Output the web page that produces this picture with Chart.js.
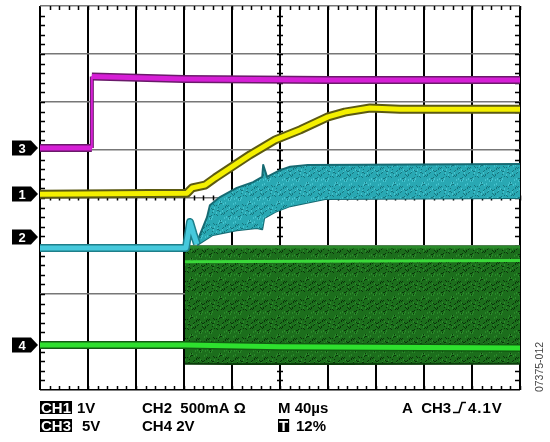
<!DOCTYPE html>
<html lang="en">
<head>
<meta charset="UTF-8">
<title>Scope capture</title>
<script src="https://cdn.jsdelivr.net/npm/chart.js"></script>
<style>
  body { margin: 0; background: #fff; }
  canvas { display: block; }
</style>
</head>
<body>
<canvas id="scope" width="550" height="442"></canvas>
<script>
// trace values in divisions (x: 0..10, y: 0..8 from the bottom)
const ch3X = [0, 1.08, 1.08, 3, 6, 10];
const ch3Y = [5.04, 5.04, 6.53, 6.48, 6.46, 6.46];

const ch1X = [0, 3.06, 3.17, 3.44, 3.65, 4.375, 4.9, 5.42, 6.0, 6.35, 6.875, 7.5, 10];
const ch1Y = [4.08, 4.1, 4.21, 4.27, 4.42, 4.9, 5.21, 5.42, 5.69, 5.79, 5.875, 5.85, 5.85];

const ch2X = [0, 3.04, 3.125, 3.2, 3.27];
const ch2Y = [2.96, 2.96, 3.5, 3.25, 3.04];
const ch2HiX = [3.27, 3.48, 3.54, 3.75, 4.1, 4.44, 4.63, 4.65, 4.73, 5.0, 5.21, 5.58, 10];
const ch2HiY = [3.08, 3.6, 3.85, 4.02, 4.21, 4.33, 4.44, 4.69, 4.44, 4.58, 4.65, 4.69, 4.71];
const ch2LoX = [3.27, 3.6, 4.1, 4.52, 4.63, 4.67, 4.9, 5.21, 5.94, 10];
const ch2LoY = [3.02, 3.23, 3.33, 3.375, 3.35, 3.58, 3.71, 3.83, 3.98, 4.0];

const ch4X = [0, 3.02, 5, 10];
const ch4Y = [0.94, 0.94, 0.9, 0.875];
const ch4TopX = [3.02, 10];
const ch4TopY = [2.98, 2.98];
const ch4BotX = [3.02, 4, 6, 10];
const ch4BotY = [0.57, 0.56, 0.56, 0.57];
const ch4BrightX = [3.02, 10];
const ch4BrightY = [2.67, 2.7];

// channel ground markers on the left
const markerLabels = ['3', '1', '2', '4'];
const markerLevels = [5.04, 4.08, 3.19, 0.94];

// readout text under the graticule
const readoutRow1 = ['1V', 'CH2  500mA Ω', 'M 40µs', 'A  CH3', '4.1V'];
const readoutRow2 = ['5V', 'CH4 2V', '12%'];

function pts(xs, ys) {
    return xs.map((x, i) => ({ x: x, y: ys[i] }));
}

// speckled fill, like the persistence display of the scope
function speckle(base, dark, light) {
    const t = document.createElement('canvas');
    t.width = 29; t.height = 19;
    const g = t.getContext('2d');
    g.fillStyle = base;
    g.fillRect(0, 0, t.width, t.height);
    for (let i = 0; i < t.width; i++) {
        for (let j = 0; j < t.height; j++) {
            const h = (i * i * 5 + j * 11 + i * j * 7) % 19;
            if (h === 0 || h === 6) { g.fillStyle = dark; g.fillRect(i, j, 1, 1); }
            else if (h === 11) { g.fillStyle = light; g.fillRect(i, j, 1, 2); }
        }
    }
    return document.getElementById('scope').getContext('2d').createPattern(t, 'repeat');
}

function trace(xs, ys, color, width, order) {
    return {
        data: pts(xs, ys),
        borderColor: color,
        borderWidth: width,
        fill: false,
        order: order,
        segment: {
            // the vertical edge of a step is drawn thin
            borderWidth: c => c.p0.parsed.x === c.p1.parsed.x ? Math.max(2, width - 4) : undefined
        }
    };
}

const greenFill = speckle('#1c6e1c', '#0a340a', '#2a8a2a');
const cyanFill = speckle('#29a8b3', '#17757e', '#45c2cd');

const datasets = [
    // green switching band
    { data: pts(ch4TopX, ch4TopY), borderColor: '#2a8a2a', borderWidth: 3, backgroundColor: greenFill, fill: '+1', order: 30 },
    { data: pts(ch4BotX, ch4BotY), borderColor: '#0b3d0b', borderWidth: 4, fill: false, order: 31 },
    trace(ch4BrightX, ch4BrightY, '#3ad83a', 3, 12),
    trace(ch4X, ch4Y, '#125c12', 8, 13),
    trace(ch4X, ch4Y, '#2ee02e', 5, 11),
    // cyan inductor current band
    { data: pts(ch2HiX, ch2HiY), borderColor: '#156a72', borderWidth: 2, backgroundColor: cyanFill, fill: '+1', order: 25 },
    { data: pts(ch2LoX, ch2LoY), borderColor: '#156a72', borderWidth: 2, fill: false, order: 26 },
    trace(ch2X, ch2Y, '#1e7f8a', 8, 9),
    trace(ch2X, ch2Y, '#46c9dc', 5, 8),
    // yellow output
    trace(ch1X, ch1Y, '#5c5a12', 9, 6),
    trace(ch1X, ch1Y, '#f4f000', 5, 5),
    // magenta enable
    trace(ch3X, ch3Y, '#6a1a6a', 8, 3),
    trace(ch3X, ch3Y, '#d61fd6', 5, 2)
];

const scopePlugin = {
    id: 'scope',
    beforeDatasetsDraw(chart) {
        const c = chart.ctx;
        const xs = chart.scales.x, ys = chart.scales.y;
        const a = chart.chartArea;
        const cx = xs.getPixelForValue(5), cy = ys.getPixelForValue(4);
        c.save();
        c.strokeStyle = '#000';
        c.lineWidth = 1.5;
        c.beginPath();
        for (let v = 0.2; v < 10; v += 0.2) {
            const px = Math.round(xs.getPixelForValue(v)) + 0.5;
            c.moveTo(px, a.top); c.lineTo(px, a.top + 4);
            c.moveTo(px, a.bottom); c.lineTo(px, a.bottom - 4);
            c.moveTo(px, cy - 2.5); c.lineTo(px, cy + 2.5);
        }
        for (let v = 0.2; v < 8; v += 0.2) {
            const py = Math.round(ys.getPixelForValue(v)) + 0.5;
            c.moveTo(a.left, py); c.lineTo(a.left + 5, py);
            c.moveTo(a.right, py); c.lineTo(a.right - 5, py);
            c.moveTo(cx - 3, py); c.lineTo(cx + 3, py);
        }
        c.stroke();
        c.restore();
    },
    afterDraw(chart) {
        const c = chart.ctx;
        const ys = chart.scales.y;
        c.save();
        // channel markers
        markerLabels.forEach((lab, i) => {
            const y = Math.round(ys.getPixelForValue(markerLevels[i]));
            c.fillStyle = '#000';
            c.beginPath();
            c.moveTo(12, y - 7.5);
            c.lineTo(31, y - 7.5);
            c.lineTo(38, y);
            c.lineTo(31, y + 7.5);
            c.lineTo(12, y + 7.5);
            c.closePath();
            c.fill();
            c.fillStyle = '#fff';
            c.font = 'bold 13px "Liberation Sans", Arial, sans-serif';
            c.textAlign = 'center';
            c.textBaseline = 'middle';
            c.fillText(lab, 22, y + 1);
        });

        // readout
        c.font = 'bold 15px "Liberation Sans", Arial, sans-serif';
        c.textAlign = 'left';
        c.textBaseline = 'alphabetic';
        const boxed = (txt, x, base) => {
            const w = c.measureText(txt).width;
            c.fillStyle = '#000';
            c.fillRect(x, base - 12, w + 2, 13);
            c.fillStyle = '#fff';
            c.fillText(txt, x + 1, base);
        };
        const row1 = 413, row2 = 431;
        boxed('CH1', 40, row1);
        c.fillStyle = '#000';
        c.fillText(readoutRow1[0], 77, row1);
        c.fillText(readoutRow1[1], 142, row1);
        c.fillText(readoutRow1[2], 278, row1);
        c.fillText(readoutRow1[3], 402, row1);
        // trigger edge symbol
        const sx = 453;
        c.strokeStyle = '#000';
        c.lineWidth = 1.6;
        c.beginPath();
        c.moveTo(sx, row1 - 0.5);
        c.lineTo(sx + 6, row1 - 0.5);
        c.lineTo(sx + 9, row1 - 10.5);
        c.lineTo(sx + 13, row1 - 10.5);
        c.stroke();
        c.letterSpacing = '1px';
        c.fillText(readoutRow1[4], 468, row1);
        c.letterSpacing = '0px';

        boxed('CH3', 40, row2);
        c.fillStyle = '#000';
        c.fillText(readoutRow2[0], 82, row2);
        c.fillText(readoutRow2[1], 142, row2);
        boxed('T', 278, row2);
        c.fillStyle = '#000';
        c.fillText(readoutRow2[2], 296, row2);

        // figure id
        c.translate(543, 367);
        c.rotate(-Math.PI / 2);
        c.font = '10.5px "Liberation Sans", Arial, sans-serif';
        c.fillStyle = '#444';
        c.textAlign = 'center';
        c.fillText('07375-012', 0, 0);
        c.restore();
    }
};

const ctx = document.getElementById('scope').getContext('2d');
const scopeChart = new Chart(ctx, {
    type: 'line',
    data: { datasets: datasets },
    options: {
        responsive: false,
        animation: false,
        layout: { padding: { left: 40, right: 30, top: 6, bottom: 52 } },
        plugins: {
            legend: { display: false },
            tooltip: { enabled: false }
        },
        elements: {
            point: { radius: 0, hoverRadius: 0 },
            line: { tension: 0, borderJoinStyle: 'round', borderCapStyle: 'butt' }
        },
        scales: {
            x: {
                type: 'linear', min: 0, max: 10,
                ticks: { display: false, stepSize: 1 },
                grid: { color: '#000', lineWidth: 2, drawTicks: false },
                border: { display: false }
            },
            y: {
                type: 'linear', min: 0, max: 8,
                ticks: { display: false, stepSize: 1 },
                grid: {
                    color: c => c.tick && c.tick.value === 0 ? '#000' : '#777',
                    lineWidth: 1.5,
                    drawTicks: false
                },
                border: { display: false }
            }
        }
    },
    plugins: [scopePlugin]
});
</script>
</body>
</html>
